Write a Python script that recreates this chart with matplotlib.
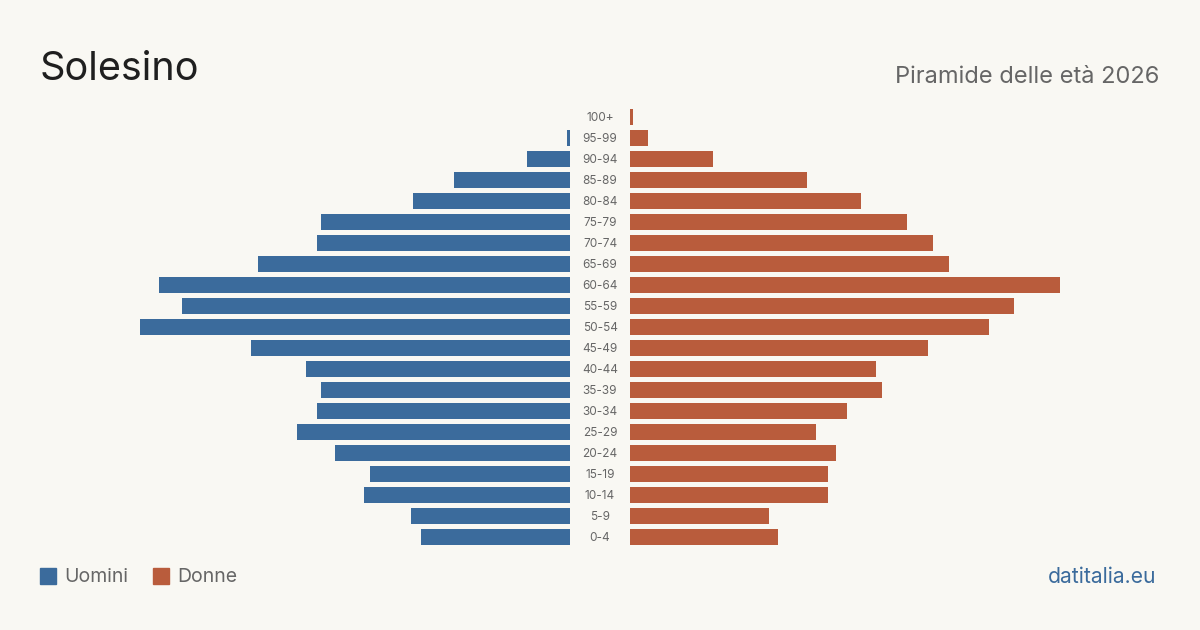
import numpy as np
import matplotlib.pyplot as plt

plt.rcParams['font.family'] = ['Inter', 'DejaVu Sans']

# fasce d'eta, dal basso verso l'alto
ages = ['0-4', '5-9', '10-14', '15-19', '20-24', '25-29', '30-34', '35-39',
        '40-44', '45-49', '50-54', '55-59', '60-64', '65-69', '70-74',
        '75-79', '80-84', '85-89', '90-94', '95-99', '100+']
uomini = [149, 159, 206, 200, 235, 273, 253, 249, 264, 319, 430, 388,
          411, 312, 253, 249, 157, 116, 43, 3, 0]
donne = [148, 139, 198, 198, 206, 186, 217, 252, 246, 298, 359, 384,
         430, 319, 303, 277, 231, 177, 83, 18, 3]

BG = '#f9f8f3'
BLUE = '#3b6b9c'
RED = '#b95c3c'
GREY = '#666666'

W, H = 1200, 630
fig = plt.figure(figsize=(12, 6.3), dpi=100, facecolor=BG)

top, bottom = 106.5, 547.5
xmax = max(max(uomini), max(donne))
ax_l = fig.add_axes([(570 - xmax) / W, 1 - bottom / H, xmax / W, (bottom - top) / H])
ax_r = fig.add_axes([630 / W, 1 - bottom / H, xmax / W, (bottom - top) / H])

y = np.arange(len(ages))
ax_l.barh(y, uomini, height=0.8, color=BLUE)
ax_r.barh(y, donne, height=0.8, color=RED)

for ax in (ax_l, ax_r):
    ax.set_xlim(0, xmax)
    ax.set_ylim(-0.5, len(ages) - 0.5)
    ax.set_facecolor('none')
    ax.axis('off')
ax_l.invert_xaxis()

for i, lab in enumerate(ages):
    ax_r.text(-30, i - 0.07, lab, ha='center', va='center', fontsize=8.5,
              color=GREY, clip_on=False)

fig.text(40 / W, 1 - 69 / H, 'Solesino', fontsize=28.5, color='#1f1f1f',
         va='center', ha='left')
fig.text(1159 / W, 1 - 77 / H, 'Piramide delle età 2026', fontsize=17,
         color=GREY, va='center', ha='right')

# legenda
fig.patches.append(plt.Rectangle((40 / W, 1 - 584 / H), 16 / W, 16 / H,
                                 transform=fig.transFigure, color=BLUE))
fig.text(64 / W, 1 - 577 / H, 'Uomini', fontsize=14, color=GREY,
         va='center', ha='left')
fig.patches.append(plt.Rectangle((153 / W, 1 - 584 / H), 16 / W, 16 / H,
                                 transform=fig.transFigure, color=RED))
fig.text(177 / W, 1 - 577 / H, 'Donne', fontsize=14, color=GREY,
         va='center', ha='left')

fig.text(1156 / W, 1 - 577 / H, 'datitalia.eu', fontsize=15.2, color=BLUE,
         va='center', ha='right')

fig.savefig('out.png', dpi=100, facecolor=BG)
